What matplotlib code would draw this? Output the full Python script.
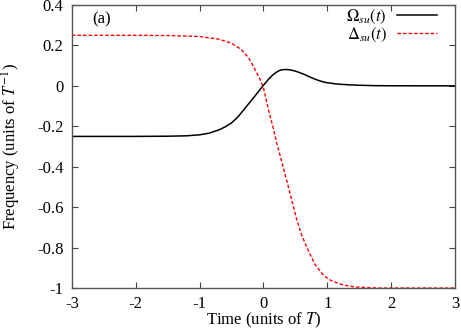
import matplotlib
matplotlib.use("Agg")
import matplotlib.pyplot as plt

plt.rcParams['font.family'] = ['Liberation Serif', 'DejaVu Serif']
plt.rcParams['mathtext.fontset'] = 'stix'

# Omega_su(t)
t_omega = [-3, -2, -1.5, -1.2, -1.0, -0.85, -0.7, -0.6, -0.5, -0.44, -0.38, -0.3,
           -0.2, -0.1, 0.0, 0.08, 0.15, 0.2, 0.25, 0.3, 0.36, 0.42, 0.5, 0.58,
           0.65, 0.72, 0.8, 0.88, 0.97, 1.1, 1.2, 1.35, 1.5, 1.75, 2.0, 3.0]
omega = [-0.25, -0.25, -0.249, -0.247, -0.242, -0.234, -0.218, -0.203, -0.183,
         -0.166, -0.146, -0.115, -0.076, -0.037, 0.003, 0.033, 0.055, 0.067, 0.076,
         0.080, 0.081, 0.079, 0.073, 0.064, 0.055, 0.045, 0.034, 0.025, 0.017,
         0.011, 0.008, 0.005, 0.003, 0.001, 0.0005, 0.0]

# Delta_su(t)
t_delta = [-3, -2, -1.5, -1.0, -0.7, -0.5, -0.34, -0.23, -0.13, -0.05, 0.0, 0.08,
           0.15, 0.21, 0.29, 0.39, 0.52, 0.6, 0.71, 0.81, 0.95, 1.07, 1.25, 1.44,
           1.8, 2.2, 3.0]
delta = [0.25, 0.25, 0.249, 0.244, 0.231, 0.211, 0.178, 0.137, 0.08, 0.03, -0.01,
         -0.12, -0.205, -0.285, -0.38, -0.50, -0.66, -0.74, -0.82, -0.885, -0.94,
         -0.965, -0.985, -0.995, -1.0, -1.0, -1.0]

xticks = [-3, -2, -1, 0, 1, 2, 3]
yticks = [-1, -0.8, -0.6, -0.4, -0.2, 0, 0.2, 0.4]
ytick_labels = ['-1', '-0.8', '-0.6', '-0.4', '-0.2', '0', '0.2', '0.4']
xtick_labels = ['-3', '-2', '-1', '0', '1', '2', '3']

fig = plt.figure(figsize=(4.61, 3.33), dpi=100)
ax = fig.add_axes([0.156, 0.135, 0.831, 0.85])

ax.plot(t_omega, omega, color='black', lw=1.1, label=r'$\Omega_{su}(t)$')
ax.plot(t_delta, delta, color='#ff0000', lw=1.0, dashes=(2.5, 1.5),
        label=r'$\Delta_{su}(t)$')

ax.set_xlim(-3, 3)
ax.set_ylim(-1, 0.4)
ax.set_xticks(xticks)
ax.set_xticklabels(xtick_labels)
ax.set_yticks(yticks)
ax.set_yticklabels(ytick_labels)
ax.tick_params(direction='in', length=4, width=0.8, top=True, right=True,
               labelsize=12, color='#444444', pad=6)
for s in ax.spines.values():
    s.set_color('#555555')
    s.set_linewidth(1.0)

ax.set_xlabel(r'Time (units of $T$)', fontsize=12, labelpad=-1)
ax.set_ylabel(r'Frequency (units of $T^{-1}$)', fontsize=12, labelpad=10)

ax.text(0.052, 0.95, '(a)', transform=ax.transAxes, fontsize=12,
        ha='left', va='center')

ax.legend(loc='upper right', bbox_to_anchor=(0.97, 1.013), frameon=False,
          markerfirst=False, fontsize=12, handlelength=2.4, borderaxespad=0,
          labelspacing=0.0, handletextpad=0.6)

fig.savefig('out.png', dpi=100)
